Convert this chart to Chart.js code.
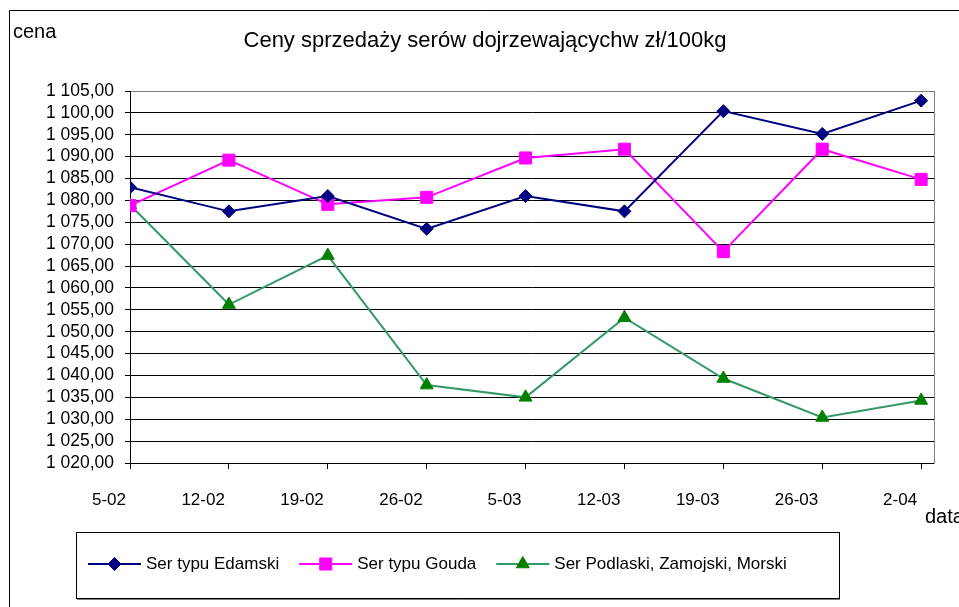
<!DOCTYPE html>
<html>
<head>
<meta charset="utf-8">
<title>Ceny sprzedaży serów dojrzewających</title>
<script src="https://cdn.jsdelivr.net/npm/chart.js@4/dist/chart.umd.min.js"></script>
<style>
  html, body { margin: 0; padding: 0; background: #fff; }
  canvas { display: block; }
</style>
</head>
<body>
<canvas id="wykres" width="959" height="607"></canvas>
<script>
const daty = ["5-02", "12-02", "19-02", "26-02", "5-03", "12-03", "19-03", "26-03", "2-04"];
const edamski = [1083.0, 1077.5, 1081.0, 1073.5, 1081.0, 1077.5, 1100.4, 1095.2, 1102.8];
const gouda = [1078.8, 1089.2, 1079.1, 1080.7, 1089.7, 1091.7, 1068.3, 1091.7, 1084.8];
const podlaski = [1079.0, 1056.2, 1067.4, 1037.8, 1035.0, 1053.2, 1039.3, 1030.4, 1034.3];
const nazwySerii = ["Ser typu Edamski", "Ser typu Gouda", "Ser Podlaski, Zamojski, Morski"];
const tytul = "Ceny sprzedaży serów dojrzewającychw zł/100kg";
const opisY = "cena";
const opisX = "data";
const cenaMin = 1020, cenaMax = 1105, cenaKrok = 5;

const FONT = '"Liberation Sans", Arial, sans-serif';

function punkty(wartosci){
  return wartosci.map((v, i) => ({x: i, y: v}));
}

function formatCeny(v){
  const [calosc, grosze] = Number(v).toFixed(2).split(".");
  return calosc.replace(/\B(?=(\d{3})+$)/g, " ") + "," + grosze;
}

// ramka, opisy osi i legenda w ramce jak w Excelu
const dodatki = {
  id: "dodatki",
  afterDraw(chart){
    const ctx = chart.ctx;
    ctx.save();
    ctx.strokeStyle = "#000";
    ctx.lineWidth = 1;
    ctx.beginPath();
    ctx.moveTo(9.5, 607);
    ctx.lineTo(9.5, 10.5);
    ctx.lineTo(959, 10.5);
    ctx.stroke();

    ctx.fillStyle = "#000";
    ctx.font = "20px " + FONT;
    ctx.textAlign = "left";
    ctx.textBaseline = "alphabetic";
    ctx.fillText(opisY, 13, 38);
    ctx.fillText(opisX, 925, 523);

    // legenda
    ctx.strokeStyle = "#000";
    ctx.strokeRect(76.5, 532.5, 763, 66);
    ctx.strokeStyle = "#808080";
    ctx.beginPath();
    ctx.moveTo(77, 599.5);
    ctx.lineTo(840, 599.5);
    ctx.stroke();

    const y = 564;
    let x = 88;
    ctx.font = "17px " + FONT;
    ctx.textBaseline = "middle";
    chart.data.datasets.forEach(ds => {
      ctx.strokeStyle = ds.borderColor;
      ctx.lineWidth = ds.borderWidth;
      ctx.beginPath();
      ctx.moveTo(x, y);
      ctx.lineTo(x + 53, y);
      ctx.stroke();
      ctx.fillStyle = ds.pointBackgroundColor;
      ctx.strokeStyle = ds.pointBorderColor;
      ctx.lineWidth = 1;
      Chart.helpers.drawPoint(ctx, {pointStyle: ds.pointStyle, radius: ds.pointRadius, borderWidth: 1, rotation: 0}, x + 26.5, y);
      ctx.fillStyle = "#000";
      ctx.fillText(ds.label, x + 58, y);
      x += 58 + ctx.measureText(ds.label).width + 20;
    });
    ctx.restore();
  }
};

new Chart(document.getElementById("wykres"), {
  type: "line",
  data: {
    datasets: [
      {
        label: nazwySerii[0],
        data: punkty(edamski),
        borderColor: "#000080",
        borderWidth: 2,
        pointStyle: "rectRot",
        pointRadius: 6.5,
        pointBackgroundColor: "#000080",
        pointBorderColor: "#000080",
        pointBorderWidth: 1
      },
      {
        label: nazwySerii[1],
        data: punkty(gouda),
        borderColor: "#ff00ff",
        borderWidth: 2,
        pointStyle: "rect",
        pointRadius: 8.5,
        pointBackgroundColor: "#ff00ff",
        pointBorderColor: "#ff00ff",
        pointBorderWidth: 1
      },
      {
        label: nazwySerii[2],
        data: punkty(podlaski),
        borderColor: "#339966",
        borderWidth: 2,
        pointStyle: "triangle",
        pointRadius: 7.5,
        pointBackgroundColor: "#008000",
        pointBorderColor: "#008000",
        pointBorderWidth: 1
      }
    ]
  },
  options: {
    responsive: false,
    animation: false,
    events: [],
    layout: { padding: { left: 36, right: 25, top: 0, bottom: 0 } },
    plugins: {
      legend: { display: false },
      tooltip: { enabled: false },
      title: {
        display: true,
        text: tytul,
        color: "#000",
        font: { family: FONT, size: 22, weight: "normal" },
        padding: { top: 28, bottom: 36.6 }
      }
    },
    scales: {
      x: {
        type: "linear",
        min: 0,
        max: 8.13,
        afterBuildTicks: scale => { scale.ticks = daty.map((d, i) => ({value: i})); },
        afterFit: scale => { scale.height = 144; },
        grid: { drawOnChartArea: false, drawTicks: true, tickLength: 6, color: "#000" },
        border: { color: "#000", width: 1 },
        ticks: {
          autoSkip: false,
          maxRotation: 0,
          align: "end",
          labelOffset: -4,
          padding: 21,
          color: "#000",
          font: { family: FONT, size: 17 },
          callback: v => daty[v]
        }
      },
      y: {
        min: cenaMin,
        max: cenaMax,
        afterFit: scale => { scale.width = 94; },
        grid: {
          color: c => (c.tick && c.tick.value === cenaMax) ? "#808080" : "#000",
          tickColor: "#000",
          tickLength: 5
        },
        border: { color: "#000", width: 1 },
        ticks: {
          stepSize: cenaKrok,
          maxTicksLimit: 40,
          autoSkip: false,
          padding: 11,
          color: "#000",
          font: { family: FONT, size: 17.5 },
          callback: v => formatCeny(v)
        }
      },
      prawa: {
        position: "right",
        display: true,
        grid: { display: false, drawTicks: false },
        border: { display: true, color: "#808080", width: 1 },
        ticks: { display: false }
      }
    }
  },
  plugins: [dodatki]
});
</script>
</body>
</html>
